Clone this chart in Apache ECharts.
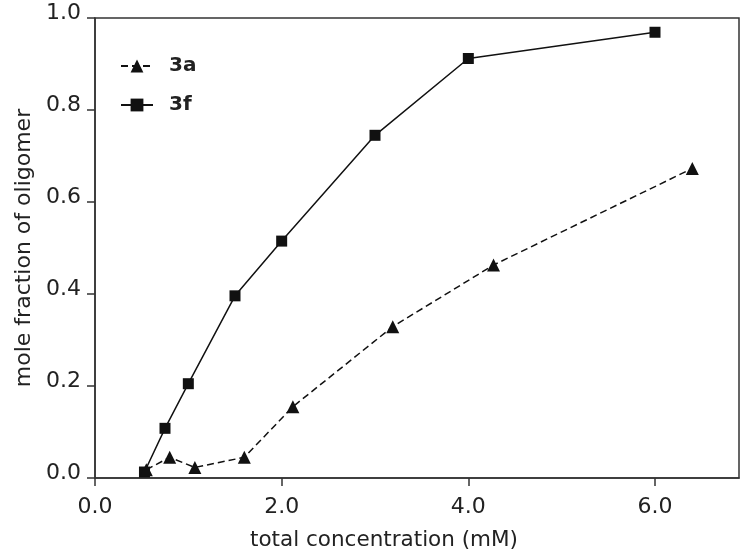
<!DOCTYPE html>
<html>
<head>
<meta charset="utf-8">
<script src="https://cdn.jsdelivr.net/npm/echarts@6/dist/echarts.min.js"></script>
<style>
html,body{margin:0;padding:0;background:#fff;}
#chart{width:750px;height:557px;}
</style>
</head>
<body>
<div id="chart"></div>
<script>
// Data
const seriesNames = ['3a', '3f'];
const x3a = [0.55, 0.80, 1.07, 1.60, 2.12, 3.19, 4.27, 6.40];
const y3a = [0.018, 0.045, 0.023, 0.045, 0.155, 0.329, 0.463, 0.673];
const x3f = [0.53, 0.75, 1.00, 1.50, 2.00, 3.00, 4.00, 6.00];
const y3f = [0.013, 0.108, 0.205, 0.396, 0.515, 0.745, 0.912, 0.969];
const xTitle = 'total concentration (mM)';
const yTitle = 'mole fraction of oligomer';

const pairs = (xs, ys) => xs.map((x, i) => [x, ys[i]]);
const FONT = '"DejaVu Sans", "Liberation Sans", Arial, sans-serif';

const chart = echarts.init(document.getElementById('chart'), null, {renderer: 'canvas'});
chart.setOption({
  animation: false,
  backgroundColor: '#fff',
  grid: {left: 95, top: 18, right: 11, bottom: 79, show: true, borderColor: '#333', borderWidth: 1.5, backgroundColor: 'transparent'},
  legend: {
    orient: 'vertical', left: 115, top: 51, itemGap: 19,
    itemWidth: 32, itemHeight: 16,
    data: seriesNames,
    textStyle: {fontFamily: FONT, fontSize: 20, fontWeight: 'bold', color: '#222', padding: [0, 0, 0, 11]}
  },
  xAxis: {
    type: 'value', min: 0, max: 6.9, interval: 2,
    name: xTitle, nameLocation: 'middle', nameGap: 51,
    nameTextStyle: {fontFamily: FONT, fontSize: 21.5, color: '#222', padding: [0, 66, 0, 0]},
    axisLine: {show: true, onZero: false, lineStyle: {color: '#333', width: 1.5}},
    axisTick: {show: true, inside: false, length: 8, lineStyle: {color: '#333', width: 1.5}},
    axisLabel: {fontFamily: FONT, fontSize: 22, color: '#222', margin: 18, showMaxLabel: false, formatter: v => v.toFixed(1)},
    splitLine: {show: false}
  },
  yAxis: {
    type: 'value', min: 0, max: 1, interval: 0.2,
    name: yTitle, nameLocation: 'middle', nameGap: 56, nameRotate: 90,
    nameTextStyle: {fontFamily: FONT, fontSize: 22, color: '#222'},
    axisLine: {show: true, lineStyle: {color: '#333', width: 1.5}},
    axisTick: {show: true, inside: false, length: 8, lineStyle: {color: '#333', width: 1.5}},
    axisLabel: {fontFamily: FONT, fontSize: 22, color: '#222', margin: 14, verticalAlign: 'bottom', lineHeight: 10, formatter: v => v.toFixed(1)},
    splitLine: {show: false}
  },
  series: [
    {
      name: seriesNames[0], type: 'line', data: pairs(x3a, y3a),
      symbol: 'triangle', symbolSize: 13,
      itemStyle: {color: '#111'},
      lineStyle: {color: '#111', width: 1.5, type: [7, 4]},
      z: 3
    },
    {
      name: seriesNames[1], type: 'line', data: pairs(x3f, y3f),
      symbol: 'rect', symbolSize: 11,
      itemStyle: {color: '#111'},
      lineStyle: {color: '#111', width: 1.5, type: 'solid'},
      z: 2
    }
  ]
});
</script>
</body>
</html>
